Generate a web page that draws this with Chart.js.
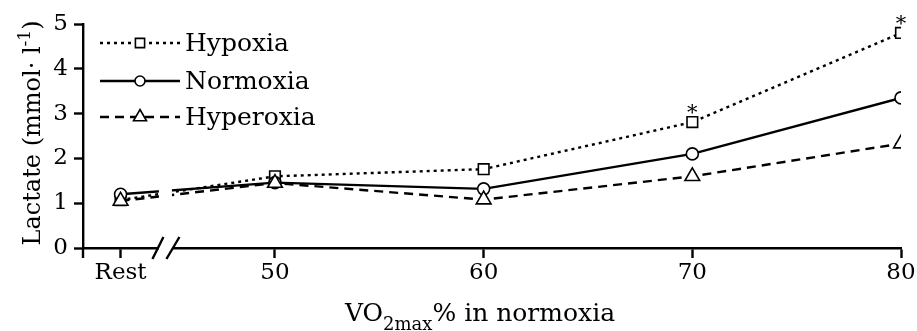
<!DOCTYPE html>
<html>
<head>
<meta charset="utf-8">
<script src="https://cdn.jsdelivr.net/npm/chart.js@4.4.0/dist/chart.umd.min.js"></script>
<style>
  html, body { margin: 0; padding: 0; background: #fff; }
  #wrap { width: 917px; height: 331px; position: relative; }
</style>
</head>
<body>
<div id="wrap"><canvas id="myChart"></canvas></div>
<script>
// data
const xLabels = ['Rest', '50', '60', '70', '80'];
const xPos = [42.6, 50, 60, 70, 80];   // Rest sits left of the axis break
const hypoxia = [1.07, 1.6, 1.76, 2.81, 4.8];
const normoxia = [1.2, 1.46, 1.32, 2.1, 3.35];
const hyperoxia = [1.05, 1.45, 1.08, 1.6, 2.33];
const sigIdx = [3, 4];   // asterisks on hypoxia
const breakAt = 44.75;

const FONT = "'DejaVu Serif', serif";

const makePts = (arr) => arr.map((v, i) => ({ x: xPos[i], y: v }));

const data = {
  datasets: [
    {
      label: 'Hyperoxia',
      data: makePts(hyperoxia),
      borderColor: '#000',
      backgroundColor: '#fff',
      borderWidth: 2.4,
      borderDash: [9, 6],
      pointStyle: 'triangle',
      pointRadius: 8.5,
      pointBorderWidth: 1.6,
      tension: 0
    },
    {
      label: 'Normoxia',
      data: makePts(normoxia),
      borderColor: '#000',
      backgroundColor: '#fff',
      borderWidth: 2.4,
      pointStyle: 'circle',
      pointRadius: 6,
      pointBorderWidth: 1.6,
      tension: 0
    },
    {
      label: 'Hypoxia',
      data: makePts(hypoxia),
      borderColor: '#000',
      backgroundColor: '#fff',
      borderWidth: 2.4,
      borderDash: [3, 4],
      pointStyle: 'rect',
      pointRadius: 7.5,
      pointBorderWidth: 1.6,
      tension: 0
    }
  ]
};

// break, asterisks, legend, titles
const extras = {
  id: 'extras',
  afterDatasetsDraw(chart) {
    const ctx = chart.ctx;
    const xs = chart.scales.x, ys = chart.scales.y;
    const ca = chart.chartArea;
    const cx = xs.getPixelForValue(breakAt);
    ctx.save();

    // gap in lines and axis at the break
    ctx.fillStyle = '#fff';
    ctx.fillRect(cx - 6.5, ca.top, 13, ca.bottom - ca.top + 3);
    ctx.strokeStyle = '#000';
    ctx.lineWidth = 2.4;
    ctx.beginPath();
    ctx.moveTo(cx - 13, 259); ctx.lineTo(cx - 2, 237);
    ctx.moveTo(cx + 1, 259); ctx.lineTo(cx + 14, 237);
    ctx.stroke();

    // y axis runs a little below the x axis
    ctx.beginPath();
    ctx.moveTo(ca.left, ca.bottom); ctx.lineTo(ca.left, ca.bottom + 10);
    ctx.stroke();

    // asterisks
    ctx.fillStyle = '#000';
    ctx.font = '21px ' + FONT;
    ctx.textAlign = 'center';
    ctx.textBaseline = 'alphabetic';
    sigIdx.forEach(i => {
      const px = xs.getPixelForValue(xPos[i]);
      const py = ys.getPixelForValue(hypoxia[i]);
      ctx.fillText('*', px, py - 3);
    });

    // legend
    const rows = [
      { ds: 2, y: 43 },
      { ds: 1, y: 81 },
      { ds: 0, y: 117 }
    ];
    rows.forEach(r => {
      const d = chart.data.datasets[r.ds];
      ctx.setLineDash(d.borderDash || []);
      ctx.lineWidth = d.borderWidth;
      ctx.beginPath();
      ctx.moveTo(100, r.y); ctx.lineTo(180, r.y);
      ctx.stroke();
      ctx.setLineDash([]);
      ctx.lineWidth = d.pointBorderWidth;
      ctx.fillStyle = '#fff';
      Chart.helpers.drawPoint(ctx, { pointStyle: d.pointStyle, radius: d.pointRadius - 1, rotation: 0, borderWidth: d.pointBorderWidth }, 140, r.y);
      ctx.fillStyle = '#000';
      ctx.font = '25px ' + FONT;
      ctx.textAlign = 'left';
      ctx.textBaseline = 'middle';
      ctx.fillText(d.label, 185, r.y + 1);
    });

    // x title with subscript
    const big = '25px ' + FONT, small = '18px ' + FONT;
    const parts = [['VO', big, 0], ['2max', small, 9], ['% in normoxia', big, 0]];
    let w = 0;
    parts.forEach(p => { ctx.font = p[1]; w += ctx.measureText(p[0]).width; });
    let x0 = 480 - w / 2;
    ctx.textAlign = 'left';
    ctx.textBaseline = 'alphabetic';
    parts.forEach(p => {
      ctx.font = p[1];
      ctx.fillText(p[0], x0, 321 + p[2]);
      x0 += ctx.measureText(p[0]).width;
    });

    // y title with superscript
    const ybig = '24px ' + FONT, ysmall = '17px ' + FONT;
    const yparts = [['Lactate (mmol· l', ybig, 0], ['-1', ysmall, -10], [')', ybig, 0]];
    let yw = 0;
    yparts.forEach(p => { ctx.font = p[1]; yw += ctx.measureText(p[0]).width; });
    ctx.translate(40, 133);
    ctx.rotate(-Math.PI / 2);
    let t0 = -yw / 2;
    yparts.forEach(p => {
      ctx.font = p[1];
      ctx.fillText(p[0], t0, p[2]);
      t0 += ctx.measureText(p[0]).width;
    });
    ctx.restore();
  }
};

const config = {
  type: 'line',
  data,
  options: {
    responsive: true,
    maintainAspectRatio: false,
    animation: false,
    layout: { padding: { left: 0, right: 16, top: 24, bottom: 0 } },
    plugins: {
      legend: { display: false },
      tooltip: { enabled: false }
    },
    scales: {
      x: {
        type: 'linear',
        min: 40.8,
        max: 80,
        afterFit: (s) => { s.height = 83; },
        afterBuildTicks: (s) => { s.ticks = xPos.map(v => ({ value: v })); },
        ticks: {
          autoSkip: false,
          maxRotation: 0,
          padding: 1,
          color: '#000',
          font: { family: FONT, size: 23 },
          callback: (v, i) => xLabels[i]
        },
        grid: {
          drawOnChartArea: false,
          drawTicks: true,
          tickLength: 10,
          tickWidth: 2.4,
          color: '#000'
        },
        border: { display: true, color: '#000', width: 2.4 }
      },
      y: {
        min: 0,
        max: 5,
        afterFit: (s) => { s.width = 83; },
        ticks: {
          stepSize: 0.5,
          padding: 6,
          color: '#000',
          font: { family: FONT, size: 23 },
          callback: (v) => Number.isInteger(v) ? v : ''
        },
        grid: {
          drawOnChartArea: false,
          drawTicks: true,
          tickLength: 9,
          tickWidth: 2.4,
          color: '#000'
        },
        border: { display: true, color: '#000', width: 2.4 }
      }
    }
  },
  plugins: [extras]
};

const myChart = new Chart(document.getElementById('myChart'), config);
</script>
</body>
</html>
